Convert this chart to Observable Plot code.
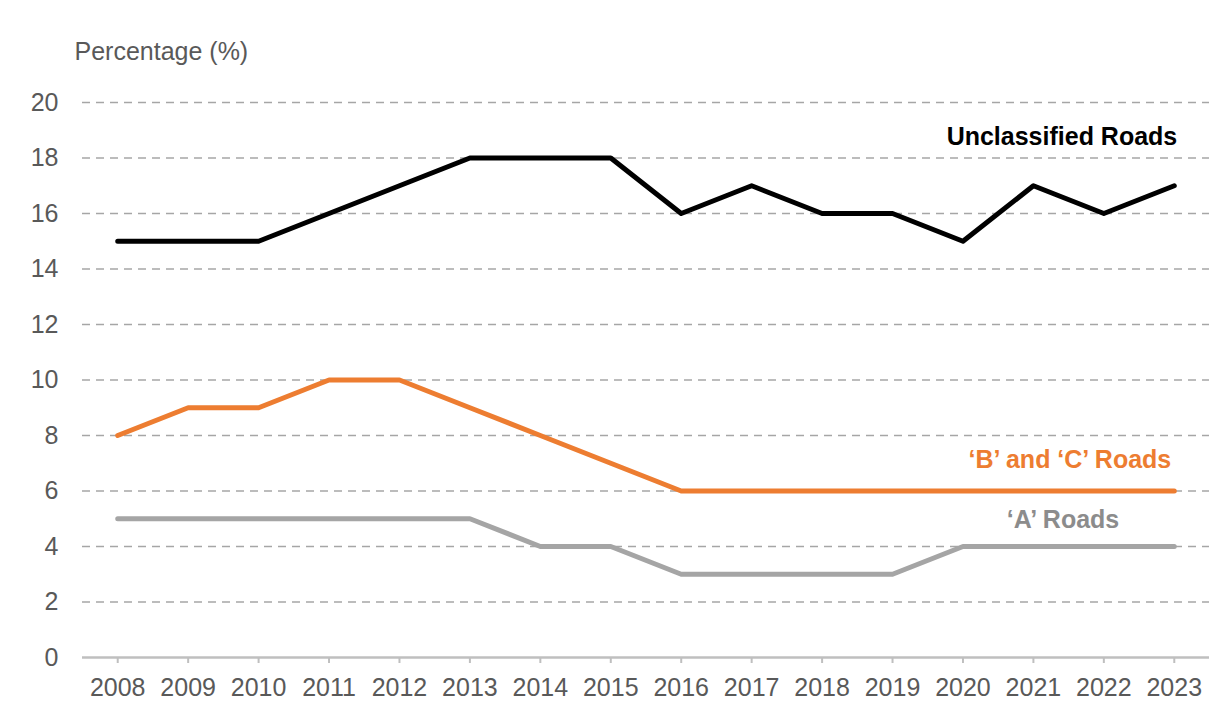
<!DOCTYPE html>
<html>
<head>
<meta charset="utf-8">
<script src="https://cdn.jsdelivr.net/npm/d3@7"></script>
<script src="https://cdn.jsdelivr.net/npm/@observablehq/plot@0.6"></script>
<style>
  html, body { margin: 0; padding: 0; background: #fff; }
  svg { display: block; }
</style>
</head>
<body>
<div id="chart"></div>
<script>
const years = [2008, 2009, 2010, 2011, 2012, 2013, 2014, 2015, 2016, 2017, 2018, 2019, 2020, 2021, 2022, 2023];
const unclassified = [15, 15, 15, 16, 17, 18, 18, 18, 16, 17, 16, 16, 15, 17, 16, 17];
const bAndC = [8, 9, 9, 10, 10, 9, 8, 7, 6, 6, 6, 6, 6, 6, 6, 6];
const aRoads = [5, 5, 5, 5, 5, 5, 4, 4, 3, 3, 3, 3, 4, 4, 4, 4];
const seriesNames = ["Unclassified Roads", "\u2018B\u2019 and \u2018C\u2019 Roads", "\u2018A\u2019 Roads"];
const seriesColors = ["#000000", "#ED7D31", "#A5A5A5"];
const labelColors = ["#000000", "#ED7D31", "#8C8C8C"];
const yTicks = [0, 2, 4, 6, 8, 10, 12, 14, 16, 18, 20];
const yLabel = "Percentage (%)";

const seriesValues = [unclassified, bAndC, aRoads];
const rows = [];
seriesValues.forEach((vals, i) => vals.forEach((v, j) => rows.push({ series: seriesNames[i], year: years[j], value: v })));

const lastYear = years[years.length - 1];
const labelOffsets = [{ dx: 3, dy: -49 }, { dx: -3, dy: -31 }, { dx: -55, dy: -27 }];
const labelMarks = seriesNames.map((name, i) =>
  Plot.text([{ year: lastYear, value: seriesValues[i][seriesValues[i].length - 1], name }], {
    x: "year", y: "value", text: "name",
    dx: labelOffsets[i].dx, dy: labelOffsets[i].dy,
    fill: labelColors[i], textAnchor: "end", fontSize: 25, fontWeight: "bold"
  })
);

const xDomain = [years[0] - 0.5, lastYear + 0.5];

const chart = Plot.plot({
  width: 1224,
  height: 724,
  marginTop: 102,
  marginBottom: 67,
  marginLeft: 82,
  marginRight: 15,
  style: { fontFamily: "'Liberation Sans', Arial, sans-serif", background: "#fff" },
  x: { domain: xDomain, ticks: years, tickFormat: d => String(d) },
  y: { domain: [0, 20], ticks: yTicks },
  color: { domain: seriesNames, range: seriesColors },
  marks: [
    Plot.gridY(yTicks.filter(d => d !== 0), { stroke: "#a6a6a6", strokeOpacity: 1, strokeWidth: 1.6, strokeDasharray: "8,6" }),
    Plot.ruleY([0], { stroke: "#bfbfbf", strokeWidth: 2.5 }),
    Plot.axisX({ ticks: years, tickFormat: d => String(d), tickSize: 6, tickPadding: 15, stroke: "#bfbfbf", strokeWidth: 2, fontSize: 25, fill: "#595959", label: null }),
    Plot.tickX([xDomain[1]], { x: d => d, stroke: "#bfbfbf", strokeWidth: 2, insetTop: 555 }),
    Plot.axisY({ ticks: yTicks, tickSize: 0, tickPadding: 24, fontSize: 25, fill: "#595959", label: null }),
    Plot.line(rows, { x: "year", y: "value", z: "series", stroke: "series", strokeWidth: 5, strokeLinecap: "round", strokeLinejoin: "round" }),
    ...labelMarks,
    Plot.text([yLabel], { frameAnchor: "top-left", text: d => d, dx: -8, dy: -60, textAnchor: "start", fontSize: 25, fill: "#595959" })
  ]
});
document.getElementById("chart").appendChild(chart);
</script>
</body>
</html>
